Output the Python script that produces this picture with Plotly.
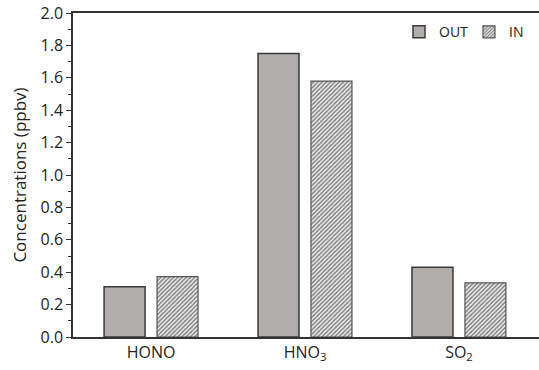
import plotly.graph_objects as go

# Species and mean concentrations (ppbv)
species = ["HONO", "HNO<sub>3</sub>", "SO<sub>2</sub>"]
out_vals = [0.31, 1.75, 0.43]
in_vals = [0.373, 1.58, 0.334]
y_ticks = [0.0, 0.2, 0.4, 0.6, 0.8, 1.0, 1.2, 1.4, 1.6, 1.8, 2.0]

font_family = "Open Sans, Noto Sans, DejaVu Sans, sans-serif"
axis_color = "#333333"
text_color = "#222222"

fig = go.Figure()
fig.add_trace(go.Bar(
    name="OUT", x=species, y=out_vals,
    marker=dict(color="#b1adaa", line=dict(color="#3a3a3a", width=1.5)),
))
fig.add_trace(go.Bar(
    name="IN", x=species, y=in_vals,
    marker=dict(
        color="#e6e6e6",
        line=dict(color="#555555", width=1.2),
        pattern=dict(shape="/", size=3, solidity=0.45,
                     fgcolor="#7a7a7a", bgcolor="#ececec", fillmode="replace"),
    ),
))

fig.update_layout(
    width=539, height=370,
    margin=dict(l=73, r=0, t=13, b=33),
    paper_bgcolor="white", plot_bgcolor="white",
    barmode="group", bargap=0.312, bargroupgap=0.226,
    font=dict(family=font_family, size=15, color=text_color),
    showlegend=True,
    legend=dict(
        orientation="h", x=1.0, y=0.99, xanchor="right", yanchor="top",
        bgcolor="rgba(0,0,0,0)", font=dict(size=14, color=text_color),
        entrywidth=25, entrywidthmode="pixels", traceorder="normal",
    ),
)
fig.update_xaxes(
    range=[-0.507, 2.52],
    showline=True, linecolor=axis_color, linewidth=1.5, mirror=True,
    ticks="", showgrid=False, zeroline=False,
    tickfont=dict(size=16, color=text_color),
)
fig.update_yaxes(
    range=[0, 2.0],
    tickvals=y_ticks, ticktext=[f"{v:.1f}" for v in y_ticks],
    showline=True, linecolor=axis_color, linewidth=1.5,
    ticks="outside", ticklen=5, tickwidth=1.2, tickcolor=axis_color,
    minor=dict(dtick=0.1, ticks="outside", ticklen=3, tickwidth=1.2, tickcolor=axis_color, showgrid=False),
    showgrid=False, zeroline=False,
    title=dict(text="Concentrations (ppbv)", font=dict(size=17, color=text_color), standoff=10),
    tickfont=dict(size=16, color=text_color),
)

fig.write_html("out.html")
